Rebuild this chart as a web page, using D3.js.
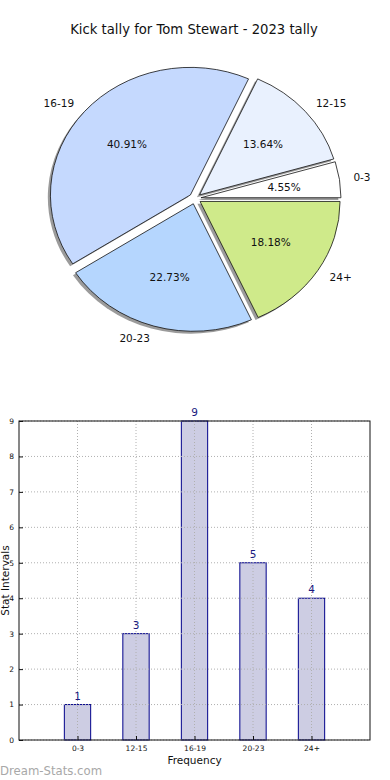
<!DOCTYPE html>
<html><head><meta charset="utf-8">
<script src="https://cdnjs.cloudflare.com/ajax/libs/d3/7.8.5/d3.min.js"></script>
<style>
html,body{margin:0;padding:0;background:#fff;}
svg{display:block;font-family:"DejaVu Sans",sans-serif;}
</style></head>
<body>
<svg id="chart" width="390" height="780"></svg>
<script>
const title = "Kick tally for Tom Stewart - 2023 tally";
const categories = ["0-3", "12-15", "16-19", "20-23", "24+"];
const values = [1, 3, 9, 5, 4];
const pieColors = ["#ffffff", "#e9f1fe", "#c5d9fe", "#b5d6fe", "#cfea8a"];
const yTicks = [0, 1, 2, 3, 4, 5, 6, 7, 8, 9];
const xLabel = "Frequency";
const yLabel = "Stat Intervals";
const watermark = "Dream-Stats.com";

const svg = d3.select("#chart");

// Title
svg.append("text").attr("x", 194).attr("y", 34).attr("text-anchor", "middle")
  .attr("font-size", 13.2).attr("fill", "#111").text(title);

// ---------- Pie ----------
const cx = 195, cy = 198.5, rx = 140, ry = 127.5, expl = 0.043;
const total = d3.sum(values);
const pie = d3.pie().sort(null).startAngle(Math.PI / 2).endAngle(Math.PI / 2 - 2 * Math.PI);
const arcs = pie(values);
const arcGen = d3.arc().innerRadius(0).outerRadius(1);
const pieG = svg.append("g");

function mathMid(a) {
  const m = (a.startAngle + a.endAngle) / 2;
  return Math.PI / 2 - m;
}
arcs.forEach((a, i) => {
  const t = mathMid(a);
  const ox = cx + expl * rx * Math.cos(t) - 2.6;
  const oy = cy - expl * ry * Math.sin(t) + 2.4;
  pieG.append("path").attr("d", arcGen(a))
    .attr("transform", `translate(${ox},${oy}) scale(${rx},${ry})`)
    .attr("fill", "#8a8a8a").attr("opacity", 0.85);
});
arcs.forEach((a, i) => {
  const t = mathMid(a);
  const ox = cx + expl * rx * Math.cos(t);
  const oy = cy - expl * ry * Math.sin(t);
  pieG.append("path").attr("d", arcGen(a))
    .attr("transform", `translate(${ox},${oy}) scale(${rx},${ry})`)
    .attr("fill", pieColors[i]).attr("stroke", "#111").attr("stroke-width", 0.8)
    .attr("vector-effect", "non-scaling-stroke");
});
arcs.forEach((a, i) => {
  const t = mathMid(a);
  const ox = cx + expl * rx * Math.cos(t);
  const oy = cy - expl * ry * Math.sin(t);
  const lx = ox + 1.1 * rx * Math.cos(t), ly = oy - 1.1 * ry * Math.sin(t);
  pieG.append("text").attr("x", lx).attr("y", ly).attr("dy", "0.35em")
    .attr("text-anchor", Math.cos(t) > 0 ? "start" : "end")
    .attr("font-size", 10.5).attr("fill", "#111").text(categories[i]);
  const px = ox + 0.6 * rx * Math.cos(t), py = oy - 0.6 * ry * Math.sin(t);
  pieG.append("text").attr("x", px).attr("y", py).attr("dy", "0.35em")
    .attr("text-anchor", "middle").attr("font-size", 10.5).attr("fill", "#111")
    .text((values[i] / total * 100).toFixed(2) + "%");
});

// ---------- Bar chart ----------
const pLeft = 19, pRight = 370, pTop = 421, pBottom = 740;
const x = d3.scaleLinear().domain([-1, categories.length]).range([pLeft, pRight]);
const y = d3.scaleLinear().domain([0, 9]).range([pBottom, pTop]);
const barW = 0.45;
const bg = svg.append("g");

bg.selectAll("rect.bar").data(values).join("rect").attr("class", "bar")
  .attr("x", (d, i) => x(i - barW / 2)).attr("width", x(barW) - x(0))
  .attr("y", d => y(d)).attr("height", d => y(0) - y(d))
  .attr("fill", "#cdcde3").attr("stroke", "#00008b").attr("stroke-width", 1);

bg.selectAll("line.hg").data(yTicks).join("line").attr("class", "hg")
  .attr("x1", pLeft).attr("x2", pRight).attr("y1", d => y(d)).attr("y2", d => y(d))
  .attr("stroke", "#b0b0b0").attr("stroke-width", 1).attr("stroke-dasharray", "1,2");
bg.selectAll("line.vg").data(categories).join("line").attr("class", "vg")
  .attr("x1", (d, i) => x(i)).attr("x2", (d, i) => x(i)).attr("y1", pTop).attr("y2", pBottom)
  .attr("stroke", "#b0b0b0").attr("stroke-width", 1).attr("stroke-dasharray", "1,2");

const yAxis = d3.axisLeft(y).tickValues(yTicks).tickSize(-4).tickPadding(5).tickFormat(d3.format("d"));
const yg = bg.append("g").attr("transform", `translate(${pLeft},0)`).call(yAxis);
yg.select(".domain").remove();
yg.selectAll("text").attr("font-size", 7.5).attr("fill", "#111").attr("font-family", "DejaVu Sans");
yg.selectAll("line").attr("stroke", "#111");
const xAxis = d3.axisBottom(x).tickValues(d3.range(categories.length)).tickSize(-4).tickPadding(6)
  .tickFormat(i => categories[i]);
const xg = bg.append("g").attr("transform", `translate(0,${pBottom})`).call(xAxis);
xg.select(".domain").remove();
xg.selectAll("text").attr("font-size", 7.5).attr("fill", "#111").attr("font-family", "DejaVu Sans");
xg.selectAll("line").attr("stroke", "#111");

bg.append("rect").attr("x", pLeft).attr("y", pTop).attr("width", pRight - pLeft).attr("height", pBottom - pTop)
  .attr("fill", "none").attr("stroke", "#111").attr("stroke-width", 1);

bg.selectAll("text.val").data(values).join("text").attr("class", "val")
  .attr("x", (d, i) => x(i)).attr("y", d => y(d) - 5).attr("text-anchor", "middle")
  .attr("font-size", 10.5).attr("fill", "#1a1a80").text(d => d);

bg.append("text").attr("x", (pLeft + pRight) / 2).attr("y", 764).attr("text-anchor", "middle")
  .attr("font-size", 10.5).attr("fill", "#111").text(xLabel);
bg.append("text").attr("transform", `translate(9,${(pTop + pBottom) / 2}) rotate(-90)`)
  .attr("text-anchor", "middle").attr("font-size", 10.5).attr("fill", "#111").text(yLabel);

svg.append("text").attr("x", 0).attr("y", 775).attr("font-size", 11.7)
  .attr("fill", "#a8a8a8").text(watermark);
</script>
</body></html>
